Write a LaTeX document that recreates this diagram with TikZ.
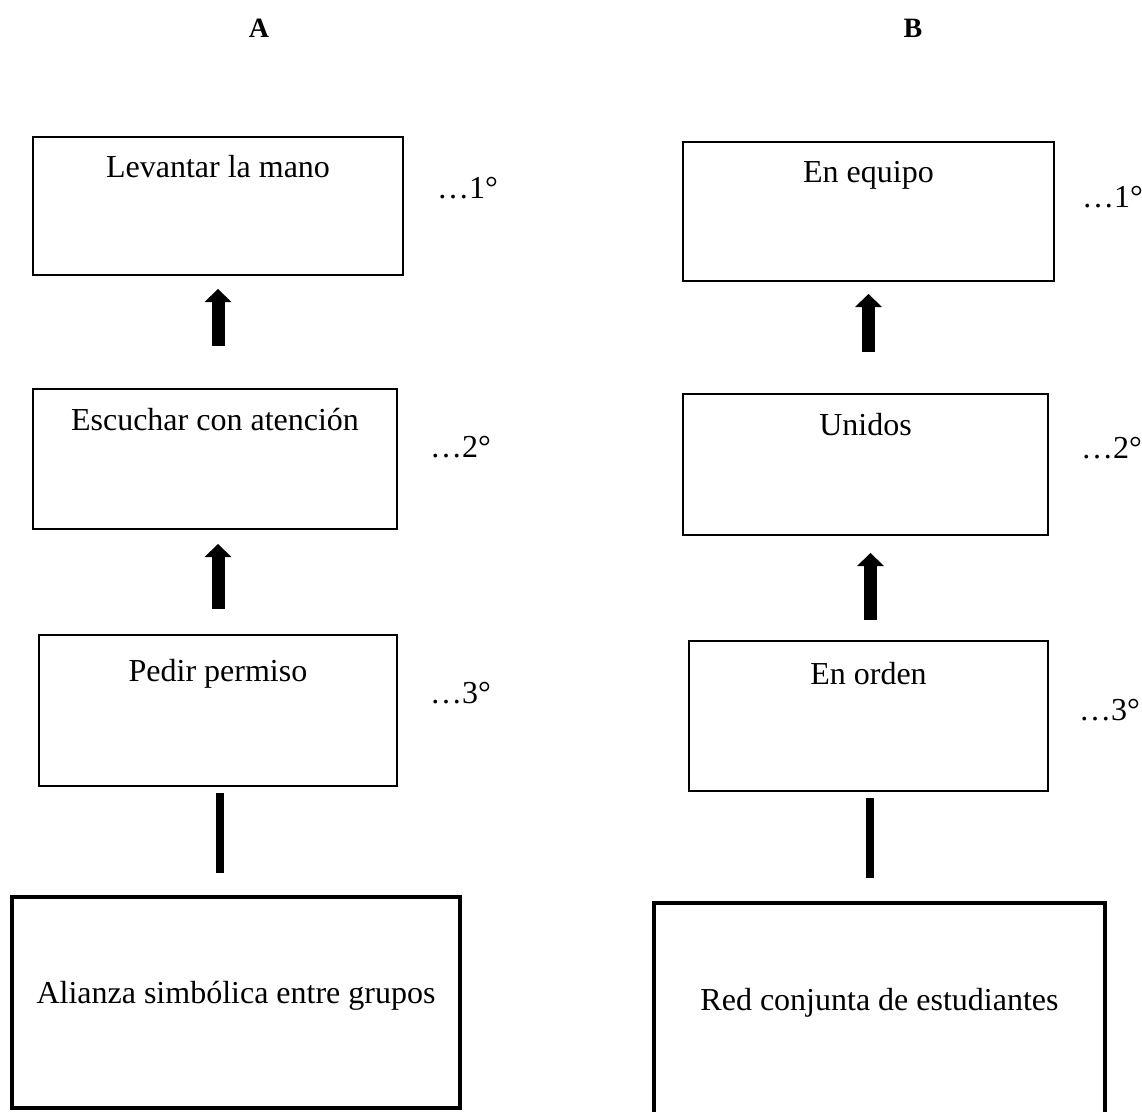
\documentclass[tikz,border=0pt]{standalone}
\usepackage{fontspec}
\setmainfont{Liberation Serif}
\usetikzlibrary{arrows.meta}
\begin{document}
\begin{tikzpicture}[x=1pt,y=-1pt,
  box/.style={draw=black,line width=2pt,inner sep=0pt},
  thickbox/.style={draw=black,line width=3.5pt,inner sep=0pt},
  txt/.style={font=\fontsize{32}{38}\selectfont,anchor=base,inner sep=0pt},
  deg/.style={font=\fontsize{32}{38}\selectfont,anchor=base west,inner sep=0pt},
  ttl/.style={font=\fontsize{28}{34}\selectfont\bfseries,anchor=base,inner sep=0pt},
  fatarrow/.style={line width=13pt,-{Triangle[width=27pt,length=13pt,line width=0pt 0]}},
  bar/.style={line width=8pt}]
\useasboundingbox (0,0) rectangle (1142,1111);
\clip (0,0) rectangle (1142,1111);
% titles
\node[ttl] (ta) at (259,37) {A};
\node[ttl] (tb) at (913,37) {B};
% column A boxes
\node[box,minimum width=370pt,minimum height=138pt] (a1) at (218,206) {};
\node[box,minimum width=364pt,minimum height=140pt] (a2) at (215,459) {};
\node[box,minimum width=358pt,minimum height=151pt] (a3) at (218,710.5) {};
\node[thickbox,minimum width=448pt,minimum height=211pt] (a4) at (236,1002.5) {};
% column B boxes
\node[box,minimum width=371pt,minimum height=139pt] (b1) at (868.5,211.5) {};
\node[box,minimum width=365pt,minimum height=141pt] (b2) at (865.5,464.5) {};
\node[box,minimum width=359pt,minimum height=150pt] (b3) at (868.5,716) {};
\node[thickbox,minimum width=451pt,minimum height=230pt] (b4) at (879.5,1018) {};
% box texts
\node[txt] (a1t) at (218,177) {Levantar la mano};
\node[txt] (a2t) at (215,430) {Escuchar con atención};
\node[txt] (a3t) at (218,681) {Pedir permiso};
\node[txt] (a4t) at (236,1003) {Alianza simbólica entre grupos};
\node[txt] (b1t) at (868.5,182) {En equipo};
\node[txt] (b2t) at (865.5,435) {Unidos};
\node[txt] (b3t) at (868.5,684) {En orden};
\node[txt] (b4t) at (879.5,1010) {Red conjunta de estudiantes};
% order labels
\node[deg] (a1d) at (437,198) {…1°};
\node[deg] (a2d) at (430,457) {…2°};
\node[deg] (a3d) at (430,703) {…3°};
\node[deg] (b1d) at (1082,207) {…1°};
\node[deg] (b2d) at (1081,458) {…2°};
\node[deg] (b3d) at (1079,720) {…3°};
% connectors
\draw[fatarrow,shorten <=42pt,shorten >=13pt] (a1.south |- a2.north) -- (a1.south);
\draw[fatarrow,shorten <=25pt,shorten >=14pt] (a3.north) -- (a3.north |- a2.south);
\draw[bar,shorten <=22pt,shorten >=6pt] ([xshift=2pt]a3.south |- a4.north) -- ([xshift=2pt]a3.south);
\draw[fatarrow,shorten <=41pt,shorten >=12pt] (b1.south |- b2.north) -- (b1.south);
\draw[fatarrow,shorten <=20pt,shorten >=17pt] ([xshift=2pt]b3.north) -- ([xshift=2pt]b3.north |- b2.south);
\draw[bar,shorten <=23pt,shorten >=6pt] ([xshift=1.5pt]b3.south |- b4.north) -- ([xshift=1.5pt]b3.south);
\end{tikzpicture}
\end{document}
